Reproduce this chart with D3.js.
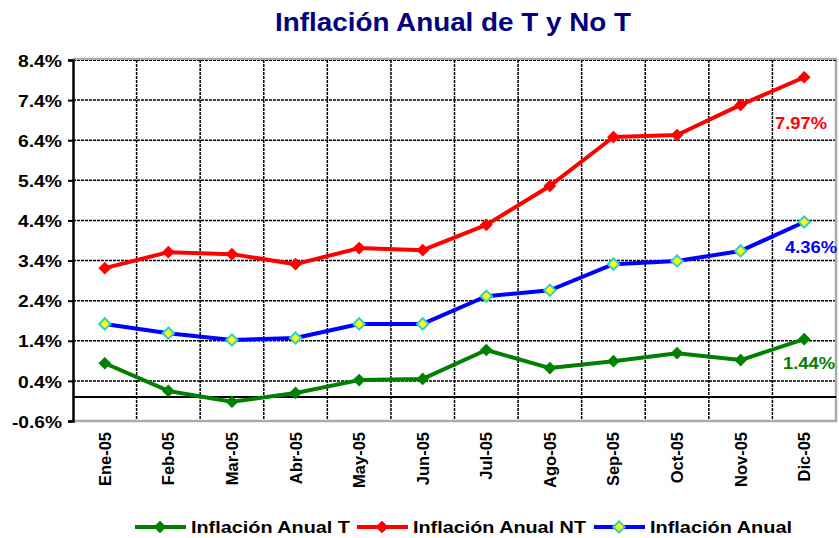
<!DOCTYPE html>
<html>
<head>
<meta charset="utf-8">
<script src="https://cdn.jsdelivr.net/npm/d3@7"></script>
<style>
  body { margin: 0; background: #fff; }
  text { font-family: Arial, "Liberation Sans", sans-serif; font-weight: bold; }
</style>
</head>
<body>
<script>
// data
var months = ["Ene-05","Feb-05","Mar-05","Abr-05","May-05","Jun-05","Jul-05","Ago-05","Sep-05","Oct-05","Nov-05","Dic-05"];
var inflT  = [0.84, 0.15, -0.12, 0.10, 0.42, 0.45, 1.17, 0.72, 0.89, 1.09, 0.92, 1.44];
var inflNT = [3.21, 3.61, 3.56, 3.31, 3.71, 3.66, 4.29, 5.26, 6.48, 6.53, 7.28, 7.97];
var inflTot = [1.82, 1.59, 1.42, 1.47, 1.82, 1.82, 2.51, 2.66, 3.31, 3.39, 3.64, 4.36];
var yTicks = [-0.6, 0.4, 1.4, 2.4, 3.4, 4.4, 5.4, 6.4, 7.4, 8.4];

var W = 839, H = 538;
var pL = 73, pR = 836, pT = 60, pB = 421;

var svg = d3.select("body").append("svg")
  .attr("width", W).attr("height", H);

var x = d3.scaleBand().domain(months).range([pL, pR]);
var y = d3.scaleLinear().domain([-0.6, 8.4]).range([pB, pT]);

// title
svg.append("text")
  .attr("x", 275).attr("y", 31)
  .attr("fill", "#000080")
  .style("font-size", "25px")
  .attr("textLength", 356).attr("lengthAdjust", "spacingAndGlyphs")
  .text("Inflación Anual de T y No T");

// horizontal grid
svg.append("g").selectAll("line")
  .data(yTicks.slice(1, -1))
  .enter().append("line")
  .attr("x1", pL).attr("x2", pR)
  .attr("y1", d => y(d)).attr("y2", d => y(d))
  .attr("stroke", "#000").attr("stroke-width", 1.5)
  .attr("stroke-dasharray", "3,1");

// vertical grid
var bounds = months.slice(1).map(m => x(m));
svg.append("g").selectAll("line")
  .data(bounds)
  .enter().append("line")
  .attr("x1", d => d).attr("x2", d => d)
  .attr("y1", pT).attr("y2", pB)
  .attr("stroke", "#000").attr("stroke-width", 1.5)
  .attr("stroke-dasharray", "3,1");

// plot frame (grey) top/right/bottom
svg.append("path")
  .attr("d", "M" + pL + "," + (pT - 1) + "H" + pR + "V" + pB + "H" + pL)
  .attr("fill", "none").attr("stroke", "#aaa").attr("stroke-width", 2.5);
svg.append("line")
  .attr("x1", pL).attr("x2", pR).attr("y1", pT + 0.5).attr("y2", pT + 0.5)
  .attr("stroke", "#000").attr("stroke-width", 1).attr("stroke-dasharray", "3,1");

// zero line
svg.append("line")
  .attr("x1", pL).attr("x2", pR)
  .attr("y1", y(0)).attr("y2", y(0))
  .attr("stroke", "#000").attr("stroke-width", 2);

// y axis
var yAxis = d3.axisLeft(y).tickValues(yTicks)
  .tickFormat(d => d.toFixed(1) + "%").tickSize(5).tickPadding(6);
var gy = svg.append("g").attr("transform", "translate(" + pL + ",0)").call(yAxis);
gy.select(".domain").attr("stroke", "#000").attr("stroke-width", 2.5);
gy.selectAll(".tick line").attr("stroke", "#000").attr("stroke-width", 2);
gy.selectAll(".tick text")
  .attr("fill", "#000")
  .attr("dy", "0.36em")
  .attr("textLength", d => d < 0 ? 50 : 44)
  .attr("lengthAdjust", "spacingAndGlyphs")
  .style("font-size", "17px")
  .style("font-family", "Arial, 'Liberation Sans', sans-serif").style("font-weight", "bold");

// x labels
svg.append("g").selectAll("text")
  .data(months)
  .enter().append("text")
  .attr("transform", d => "translate(" + (x(d) + x.bandwidth() / 2 + 6) + "," + 432 + ") rotate(-90)")
  .attr("text-anchor", "end")
  .style("font-size", "16.5px")
  .attr("fill", "#000")
  .text(d => d);

var series = [
  { name: "Inflación Anual T", values: inflT, color: "#008000", fill: "#008000", stroke: "#008000", tl: 159 },
  { name: "Inflación Anual NT", values: inflNT, color: "#ff0000", fill: "#ff0000", stroke: "#ff0000", tl: 173 },
  { name: "Inflación Anual", values: inflTot, color: "#0000ff", fill: "#ffff00", stroke: "#33cccc", tl: 142 }
];

var line = d3.line()
  .x((d, i) => x(months[i]) + x.bandwidth() / 2)
  .y(d => y(d));

// square turned 45 degrees -> even diamond
var diamond = d3.symbol().type(d3.symbolSquare).size(64);

series.forEach(function (s) {
  svg.append("path")
    .datum(s.values)
    .attr("d", line)
    .attr("fill", "none")
    .attr("stroke", s.color)
    .attr("stroke-width", 4)
    .attr("stroke-linejoin", "round");

  svg.append("g").selectAll("path")
    .data(s.values)
    .enter().append("path")
    .attr("d", diamond)
    .attr("transform", (d, i) => "translate(" + (x(months[i]) + x.bandwidth() / 2) + "," + y(d) + ") rotate(45)")
    .attr("fill", s.fill)
    .attr("stroke", s.stroke)
    .attr("stroke-width", s.fill === s.stroke ? 1 : 2);
});

// end labels
var endLabels = [
  { text: "7.97%", color: "#ff0000", x: 775, y: 129 },
  { text: "4.36%", color: "#0000ff", x: 785, y: 253 },
  { text: "1.44%", color: "#008000", x: 783, y: 369 }
];
svg.append("g").selectAll("text")
  .data(endLabels)
  .enter().append("text")
  .attr("x", d => d.x).attr("y", d => d.y)
  .attr("fill", d => d.color)
  .style("font-size", "17px")
  .attr("textLength", 52).attr("lengthAdjust", "spacingAndGlyphs")
  .text(d => d.text);

// legend
var legendX = [135, 357, 594];
var lg = svg.append("g");
series.forEach(function (s, i) {
  var g = lg.append("g").attr("transform", "translate(" + legendX[i] + ",527)");
  g.append("line").attr("x1", 0).attr("x2", 51).attr("y1", 0).attr("y2", 0)
    .attr("stroke", s.color).attr("stroke-width", 4);
  g.append("path").attr("d", diamond).attr("transform", "translate(25,0) rotate(45)")
    .attr("fill", s.fill).attr("stroke", s.stroke)
    .attr("stroke-width", s.fill === s.stroke ? 1 : 2);
  g.append("text").attr("x", 56).attr("y", 6)
    .style("font-size", "17px").attr("fill", "#000")
    .attr("textLength", s.tl).attr("lengthAdjust", "spacingAndGlyphs")
    .text(s.name);
});
</script>
</body>
</html>
